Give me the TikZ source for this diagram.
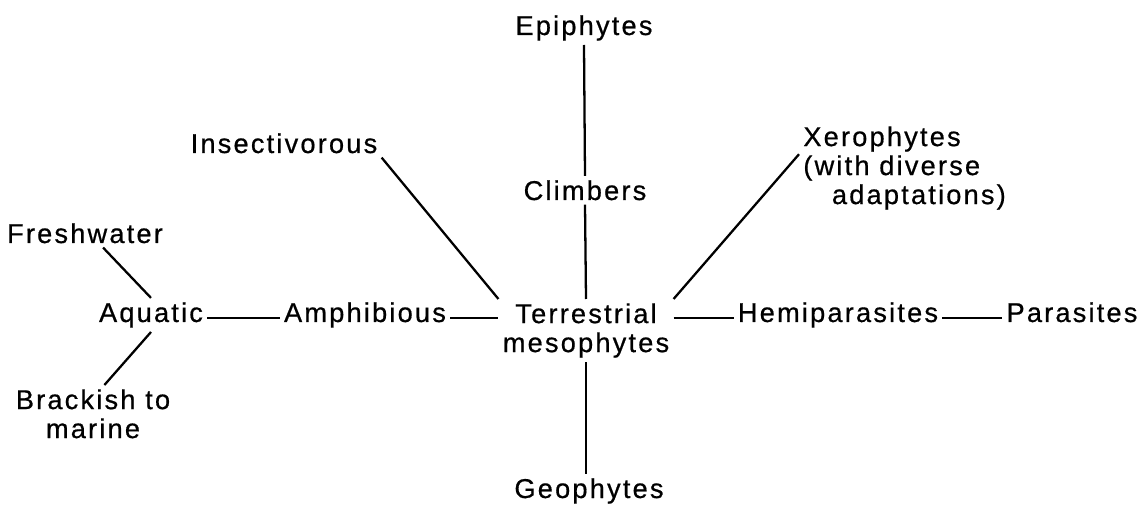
\documentclass[tikz,border=0pt]{standalone}
\usepackage{fontspec}
\newfontfamily\lblfont{Liberation Sans}[LetterSpace=8,FakeBold=0.6]
\usetikzlibrary{calc}

\begin{document}
\begin{tikzpicture}[x=0.02cm,y=-0.02cm,
  lbl/.style={font=\lblfont\fontsize{15.5}{16.5}\selectfont, inner sep=0.08cm, anchor=base},
  link/.style={line width=1.3pt}]
  \useasboundingbox (0,0) rectangle (1146,506);

  % Central column
  \node[lbl] (epi) at (584,35) {Epiphytes};
  \node[lbl] (climb) at (585,200) {Climbers};
  \node[lbl, align=center, anchor=north] (terr) at (586,299) {Terrestrial\\mesophytes};
  \node[lbl] (geo) at (589,498) {Geophytes};

  % Left side
  \node[lbl] (insect) at (284,153) {Insectivorous};
  \node[lbl] (amph) at (365,322) {Amphibious};
  \node[lbl] (aq) at (151,322) {Aquatic};
  \node[lbl] (fresh) at (85,243) {Freshwater};
  \node[lbl, align=center, anchor=north] (brack) at (93,385) {Brackish to\\marine};

  % Right side
  \node[lbl, align=left, anchor=north west] (xero) at (799,122) {Xerophytes\\(with diverse\\\hspace*{1.05em}adaptations)};
  \node[lbl] (hemi) at (838,322) {Hemiparasites};
  \node[lbl] (para) at (1072,322) {Parasites};

  % Vertical links
  \draw[link] (epi.south) -- (climb.north);
  \draw[link] (climb.south) -- (terr.north);
  \draw[link] (terr.south) -- (terr.south |- geo.north);

  % Horizontal links
  \draw[link] (aq.mid east) -- (amph.mid west);
  \draw[link] (amph.mid east) -- (amph.mid east -| terr.west);
  \draw[link] (hemi.mid west -| terr.east) -- (hemi.mid west);
  \draw[link] (hemi.mid east) -- (para.mid west);

  % Diagonal links
  \draw[link] (insect.south east) -- (terr.north west);
  \draw[link] (terr.north east) -- ($(xero.north west)!0.35!(xero.south west)$);
  \draw[link] ($(fresh.south)!0.22!(fresh.south east)$) -- (aq.north);
  \draw[link] (aq.south) -- ($(brack.north)!0.14!(brack.north east)$);
\end{tikzpicture}
\end{document}
